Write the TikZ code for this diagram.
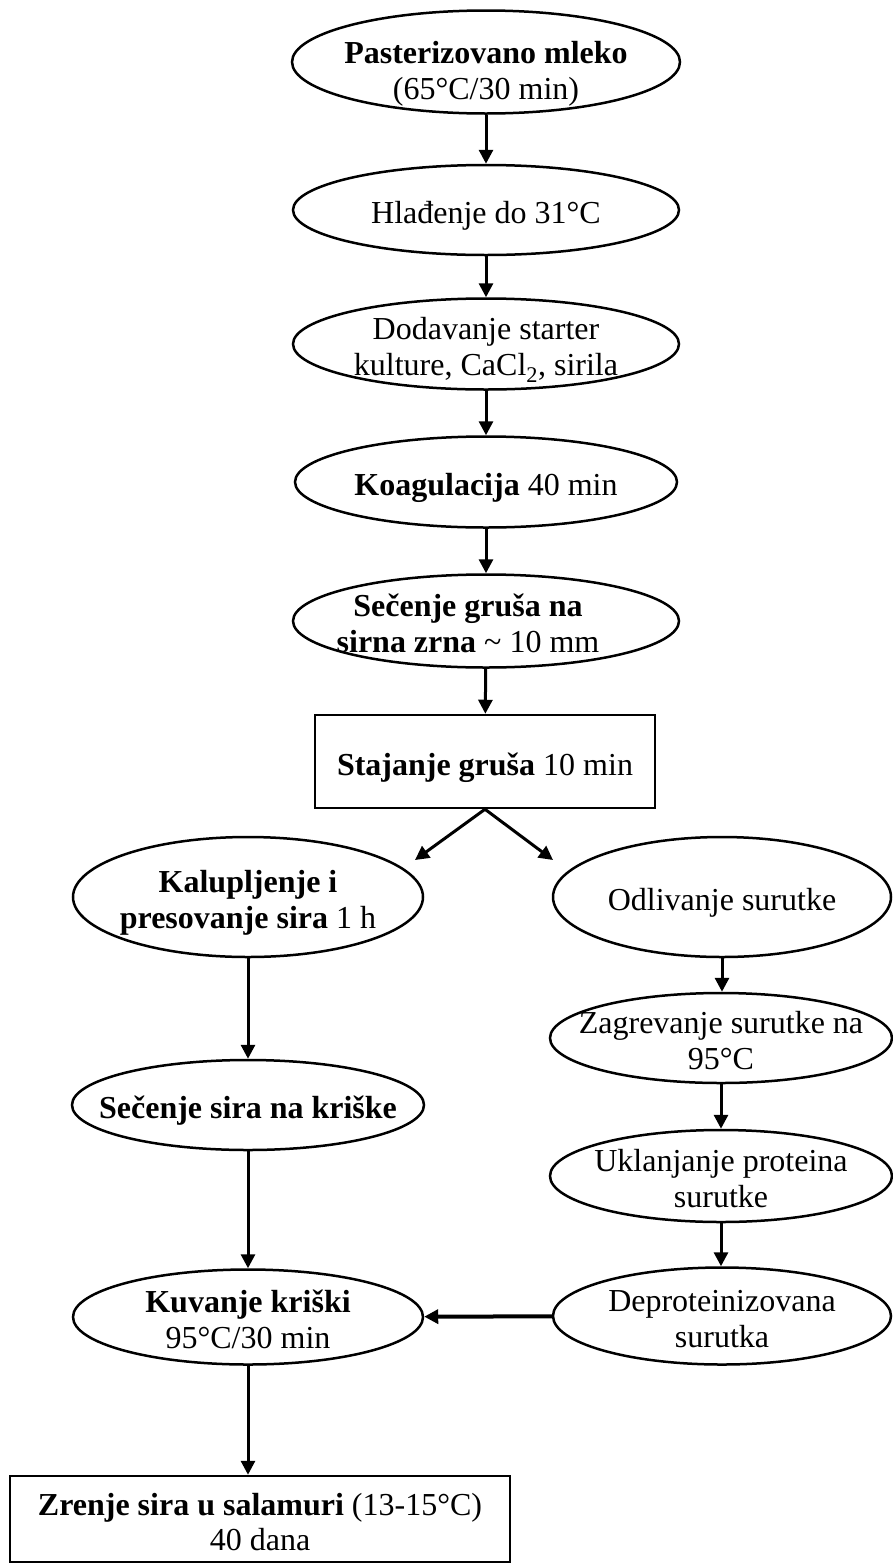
\documentclass[tikz,border=0pt]{standalone}
\usepackage{fontspec}
\setmainfont{Liberation Serif}
\usetikzlibrary{shapes.geometric,arrows.meta}
\newcommand{\lbl}[2][-13pt]{\makebox[0pt]{\smash{\raisebox{#1}{\begin{tabular}{@{}c@{}}#2\end{tabular}}}}}
\begin{document}
\begin{tikzpicture}[x=1pt, y=-1pt,
    font=\fontsize{32}{36}\selectfont,
    proc/.style={ellipse, draw, line width=2.5pt, inner sep=0pt, minimum width=386pt, minimum height=91pt},
    stagebox/.style={rectangle, draw, line width=2.5pt, inner sep=0pt},
    arrow/.style={-{Triangle[length=14pt,width=14pt]}, line width=3pt}
]
    \useasboundingbox (0,0) rectangle (892,1564);

    \node[proc, minimum width=388pt, minimum height=103pt] (past) at (486,62) {\lbl[-19pt]{\textbf{Pasterizovano mleko}\\(65°C/30 min)}};
    \node[proc, minimum height=90pt] (hlad) at (486,210) {\lbl{Hlađenje do 31°C}};
    \node[proc] (dodav) at (486,344) {\lbl{Dodavanje starter\\kulture, CaCl\textsubscript{2}, sirila}};
    \node[proc, minimum width=382pt] (koag) at (486,482) {\lbl{\textbf{Koagulacija} 40 min}};
    \node[proc, minimum height=93pt] (secgrus) at (486,621) {\makebox[0pt]{\hspace*{-36pt}\lbl{\textbf{Sečenje gruša na}\\\textbf{sirna zrna} \textasciitilde{} 10 mm}}};
    \node[stagebox, minimum width=340pt, minimum height=93pt] (staj) at (485,761.5) {\lbl{\textbf{Stajanje gruša} 10 min}};

    \node[proc, minimum width=350pt, minimum height=120pt] (kalup) at (248,897) {\lbl{\textbf{Kalupljenje i}\\\textbf{presovanje sira} 1 h}};
    \node[proc, minimum width=352pt, minimum height=90pt] (secsir) at (248,1105) {\lbl{\textbf{Sečenje sira na kriške}}};
    \node[proc, minimum width=350pt, minimum height=95pt] (kuv) at (248,1317) {\lbl{\textbf{Kuvanje kriški}\\95°C/30 min}};
    \node[stagebox, minimum width=500pt, minimum height=86pt] (zrenje) at (260,1519) {\lbl{\textbf{Zrenje sira u salamuri} (13-15°C)\\40 dana}};

    \node[proc, minimum width=338pt, minimum height=120pt] (odliv) at (722,897) {\lbl{Odlivanje surutke}};
    \node[proc, minimum width=342pt, minimum height=90pt] (zagr) at (721,1038) {\lbl{Zagrevanje surutke na\\95°C}};
    \node[proc, minimum width=342pt, minimum height=92pt] (ukl) at (721,1176) {\lbl{Uklanjanje proteina\\surutke}};
    \node[proc, minimum width=338pt, minimum height=97pt] (deprot) at (722,1316) {\lbl{Deproteinizovana\\surutka}};

    \coordinate (tipL) at (415,860);
    \coordinate (tipR) at (553,860);

    \draw[arrow] (past) -- (hlad);
    \draw[arrow] (hlad) -- (dodav);
    \draw[arrow] (dodav) -- (koag);
    \draw[arrow] (koag) -- (secgrus);
    \draw[arrow] (secgrus) -- (staj);
    \draw[arrow] (staj.south) -- (tipL);
    \draw[arrow] (staj.south) -- (tipR);
    \draw[arrow] (kalup) -- (secsir);
    \draw[arrow] (secsir) -- (kuv);
    \draw[arrow] (kuv.south) -- (kuv.south |- zrenje.north);
    \draw[arrow] (odliv.south) -- (odliv.south |- zagr.north);
    \draw[arrow] (zagr) -- (ukl);
    \draw[arrow] (ukl.south) -- (ukl.south |- deprot.north);
    \draw[arrow, line width=4pt] (deprot) -- (kuv);
\end{tikzpicture}
\end{document}
